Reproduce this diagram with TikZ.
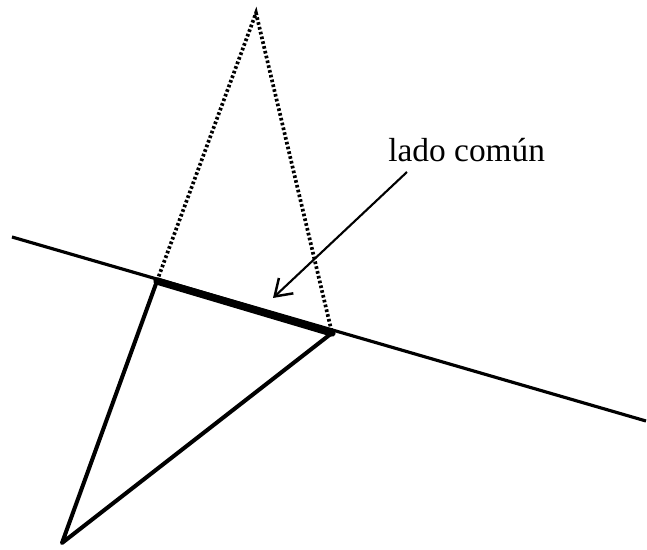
\documentclass[tikz,border=0pt]{standalone}
\usepackage{fontspec}
\setmainfont{Liberation Serif}
\usepackage{tikz}
\usetikzlibrary{arrows.meta,calc}
\tikzset{
  lado/.style={line width=2.3pt,line cap=round,line join=round},
  comun/.style={line width=4.2pt,line cap=round},
  recta/.style={line width=1.8pt},
  punt/.style={line width=2.1pt,dash pattern=on 1.5pt off 1.3pt},
  fl/.style={-{Straight Barb[length=9pt,width=12pt,line width=1.4pt]},line width=1.2pt},
  lbl/.style={font=\fontsize{19}{22}\selectfont,inner sep=0pt,anchor=base west},
}

\begin{document}
\begin{tikzpicture}[x=0.02cm,y=-0.02cm]
\useasboundingbox (0,0) rectangle (647,550);
% vertices
\coordinate (A) at (157,281);
\coordinate (B) at (332,333);
\coordinate (C) at (62,543);
\coordinate (D) at (256,13);
\coordinate (r1) at (12,237);
\coordinate (r2) at (646,421);
% the line
\draw[recta] (r1) -- (r2);
% triangles
\draw[punt] (A) -- (D) -- (B);
\draw[lado] (A) -- (C) -- (B);
\draw[comun] (A) -- (B);
% label
\node[lbl] (txt) at (388,162) {lado común};
\coordinate (tail) at (407,172);
\coordinate (tip) at (273,298);
\draw[fl] (tail) -- (tip);
\end{tikzpicture}
\end{document}
